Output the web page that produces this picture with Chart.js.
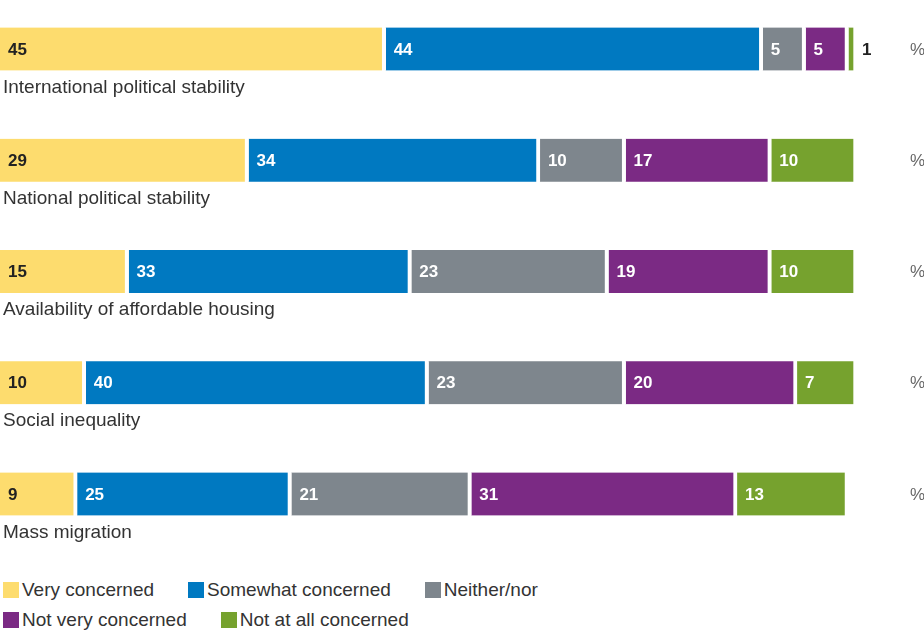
<!DOCTYPE html>
<html>
<head>
<meta charset="utf-8">
<script src="https://cdn.jsdelivr.net/npm/chart.js@4/dist/chart.umd.min.js"></script>
<style>
    body { margin: 0; background: #fff; font-family: 'Liberation Sans', Arial, sans-serif; }
    #wrap { position: relative; width: 924px; height: 630px; }
    #box { position: absolute; left: 0; top: 0; width: 924px; height: 560px; }
    #legend { position: absolute; left: 3px; top: 579px; width: 580px; display: flex; flex-wrap: wrap; column-gap: 34px; row-gap: 8px; }
    .item { display: flex; align-items: center; font-size: 19px; color: #333; height: 22px; }
    .sw { width: 16px; height: 16px; margin-right: 3px; }
</style>
</head>
<body>
<div id="wrap">
    <div id="box"><canvas id="chart"></canvas></div>
    <div id="legend"></div>
</div>
<script>
const categories = ['International political stability', 'National political stability', 'Availability of affordable housing', 'Social inequality', 'Mass migration'];
const seriesNames = ['Very concerned', 'Somewhat concerned', 'Neither/nor', 'Not very concerned', 'Not at all concerned'];
const veryConcerned = [45, 29, 15, 10, 9];
const somewhatConcerned = [44, 34, 33, 40, 25];
const neitherNor = [5, 10, 23, 23, 21];
const notVeryConcerned = [5, 17, 19, 20, 31];
const notAtAllConcerned = [1, 10, 10, 7, 13];
const colors = ['#FDDC6E', '#0079C1', '#7E868D', '#7B2A84', '#76A22E'];

const series = [veryConcerned, somewhatConcerned, neitherNor, notVeryConcerned, notAtAllConcerned];

// value labels, category names under bars, and % at the right
const labelPlugin = {
    id: 'labels',
    afterDatasetsDraw(chart) {
        const ctx = chart.ctx;
        ctx.save();
        ctx.textBaseline = 'middle';
        chart.data.datasets.forEach((ds, di) => {
            const meta = chart.getDatasetMeta(di);
            meta.data.forEach((bar, i) => {
                const v = ds.data[i];
                const w = bar.x - bar.base;
                ctx.font = 'bold 17px "Liberation Sans", Arial, sans-serif';
                if (w < 20) {
                    ctx.fillStyle = '#222';
                    ctx.fillText(v, bar.x + 5, bar.y + 1);
                } else {
                    ctx.fillStyle = di === 0 ? '#222' : '#fff';
                    ctx.fillText(v, bar.base + 8, bar.y + 1);
                }
            });
        });
        const meta0 = chart.getDatasetMeta(0);
        meta0.data.forEach((bar, i) => {
            ctx.textBaseline = 'alphabetic';
            ctx.fillStyle = '#333';
            ctx.font = '19px "Liberation Sans", Arial, sans-serif';
            ctx.fillText(categories[i], 3, bar.y + bar.height / 2 + 22);
            ctx.textBaseline = 'middle';
            ctx.fillStyle = '#666';
            ctx.font = '17px "Liberation Sans Narrow", "Liberation Sans", sans-serif';
            ctx.fillText('%', 910, bar.y + 1);
        });
        ctx.restore();
    }
};

new Chart(document.getElementById('chart'), {
    type: 'bar',
    data: {
        labels: categories,
        datasets: series.map((d, i) => ({
            label: seriesNames[i],
            data: d,
            backgroundColor: colors[i],
            borderColor: '#fff',
            borderWidth: { top: 0, right: 4, bottom: 0, left: 0 },
            borderSkipped: false,
            barThickness: 43,
            clip: false,
        })),
    },
    options: {
        indexAxis: 'y',
        responsive: true,
        maintainAspectRatio: false,
        animation: false,
        layout: { padding: { top: 49, bottom: 66, left: 0, right: 67 } },
        scales: {
            x: { stacked: true, min: 0, max: 100, display: false },
            y: { stacked: true, offset: false, display: false },
        },
        plugins: {
            legend: { display: false },
            tooltip: { enabled: false },
        },
    },
    plugins: [labelPlugin],
});

const legend = document.getElementById('legend');
seriesNames.forEach((name, i) => {
    const item = document.createElement('div');
    item.className = 'item';
    item.innerHTML = '<span class="sw" style="background:' + colors[i] + '"></span>' + name;
    legend.appendChild(item);
});
</script>
</body>
</html>
